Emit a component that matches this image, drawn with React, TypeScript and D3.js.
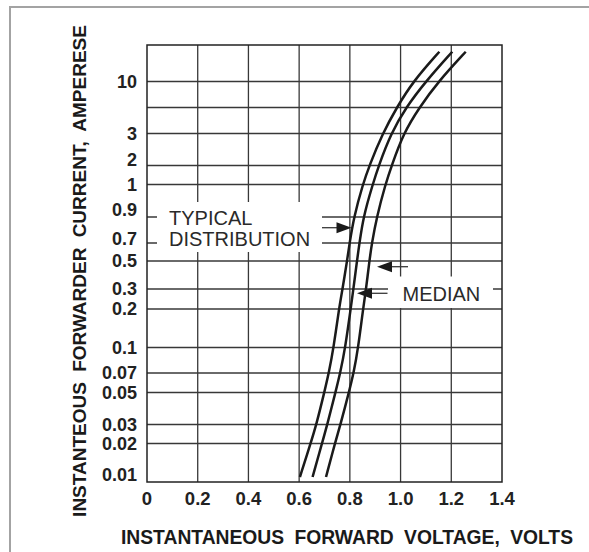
import React, { useEffect, useRef } from 'react';
import * as d3 from 'd3';

const currentLevels = [0.01, 0.02, 0.03, 0.05, 0.07, 0.1, 0.2, 0.3, 0.5, 0.7, 0.9, 1, 2, 3, 5, 10, 17.6];
const lowVolts = [0.603, 0.645, 0.668, 0.699, 0.717, 0.736, 0.757, 0.771, 0.789, 0.799, 0.816, 0.851, 0.877, 0.929, 0.985, 1.049, 1.153];
const medianVolts = [0.653, 0.690, 0.711, 0.743, 0.762, 0.782, 0.803, 0.814, 0.828, 0.838, 0.853, 0.890, 0.914, 0.962, 1.021, 1.099, 1.204];
const highVolts = [0.706, 0.741, 0.763, 0.796, 0.815, 0.833, 0.852, 0.864, 0.877, 0.887, 0.906, 0.940, 0.965, 1.011, 1.074, 1.149, 1.257];

const xTicks = [0, 0.2, 0.4, 0.6, 0.8, 1.0, 1.2, 1.4];
const yTickValues = [10, 3, 2, 1, 0.9, 0.7, 0.5, 0.3, 0.2, 0.1, 0.07, 0.05, 0.03, 0.02, 0.01];
const yTickLabels = ['10', '3', '2', '1', '0.9', '0.7', '0.5', '0.3', '0.2', '0.1', '0.07', '0.05', '0.03', '0.02', '0.01'];
const yGridValues = [10, 5, 3, 2, 1, 0.9, 0.7, 0.5, 0.3, 0.2, 0.1, 0.07, 0.05, 0.03, 0.02];

// the printed chart's current axis is not a clean log scale, so it is mapped piecewise
const yStops = [0.01, 0.02, 0.03, 0.05, 0.07, 0.1, 0.2, 0.3, 0.5, 0.7, 0.9, 1, 2, 3, 5, 10, 20];

function DiodeChart() {
  const ref = useRef<SVGSVGElement>(null);

  useEffect(() => {
    const width = 589;
    const height = 552;
    const left = 147, right = 502, top = 45, bottom = 482;
    const stopOffsets = [432, 398.5, 379.5, 347.5, 328, 302.5, 264, 244, 216, 198, 172, 139.5, 120.5, 88.5, 62.5, 36.5, 0];
    // labels that sit a little above their grid line in the original
    const labelNudge: Record<string, number> = { '2': -6, '0.9': -7, '0.7': -4, '0.01': -2 };

    const svg = d3.select(ref.current);
    svg.selectAll('*').remove();
    svg.attr('width', width).attr('height', height);

    const x = d3.scaleLinear().domain([0, 1.4]).range([left, right]);
    const yLin = d3.scaleLinear()
      .domain(yStops.map(Math.log10))
      .range(stopOffsets.map(o => top + o));
    const y = (v: number) => yLin(Math.log10(v));

    const font = "'Liberation Sans', Arial, sans-serif";
    const gridColor = '#383838';

    // page frame
    svg.append('rect')
      .attr('x', 10).attr('y', 7).attr('width', 620).attr('height', 620)
      .attr('fill', '#fff').attr('stroke', '#a3a3a3').attr('stroke-width', 2);

    const g = svg.append('g');

    // grid
    g.selectAll('line.hgrid')
      .data(yGridValues)
      .enter()
      .append('line')
      .attr('x1', left).attr('x2', right)
      .attr('y1', d => y(d)).attr('y2', d => y(d))
      .attr('stroke', gridColor).attr('stroke-width', 1.3);

    g.selectAll('line.vgrid')
      .data(xTicks.slice(1, -1))
      .enter()
      .append('line')
      .attr('x1', d => x(d)).attr('x2', d => x(d))
      .attr('y1', top).attr('y2', bottom)
      .attr('stroke', gridColor).attr('stroke-width', 1.3);

    // white boxes behind the annotations
    g.append('rect').attr('x', 157).attr('y', 202).attr('width', 165).attr('height', 50).attr('fill', '#fff');
    g.append('rect').attr('x', 388).attr('y', 276.5).attr('width', 105).attr('height', 31.5).attr('fill', '#fff');

    // plot frame
    g.append('rect')
      .attr('x', left).attr('y', top).attr('width', right - left).attr('height', bottom - top)
      .attr('fill', 'none').attr('stroke', '#222').attr('stroke-width', 1.5);

    // curves
    const line = d3.line<number>()
      .x(d => x(d))
      .y((d, i) => y(currentLevels[i]))
      .curve(d3.curveBasis);

    [lowVolts, medianVolts, highVolts].forEach(series => {
      g.append('path')
        .attr('d', line(series))
        .attr('fill', 'none')
        .attr('stroke', '#1a1a1a')
        .attr('stroke-width', 2.5);
    });

    // arrows
    const arrows = [
      { x1: 322, x2: 351.5, y: 227.7 },
      { x1: 408, x2: 377, y: 266.7 },
      { x1: 387.5, x2: 357, y: 293.3 },
    ];
    arrows.forEach(a => {
      const dir = a.x2 > a.x1 ? 1 : -1;
      g.append('line')
        .attr('x1', a.x1).attr('x2', a.x2 - dir * 6)
        .attr('y1', a.y).attr('y2', a.y)
        .attr('stroke', gridColor).attr('stroke-width', 1.3);
      g.append('path')
        .attr('d', `M${a.x2},${a.y} L${a.x2 - dir * 15},${a.y - 5.5} L${a.x2 - dir * 15},${a.y + 5.5} Z`)
        .attr('fill', '#1a1a1a');
    });

    // annotation text
    const notes = [
      { text: 'TYPICAL', x: 169, y: 217.5 },
      { text: 'DISTRIBUTION', x: 169, y: 238.5 },
      { text: 'MEDIAN', x: 402.5, y: 293.3 },
    ];
    g.selectAll('text.note')
      .data(notes)
      .enter()
      .append('text')
      .attr('x', d => d.x)
      .attr('y', d => d.y)
      .attr('dy', '0.36em')
      .attr('font-family', font)
      .attr('font-size', 20)
      .attr('fill', '#2a2a2a')
      .text(d => d.text);

    // tick labels
    g.selectAll('text.ytick')
      .data(yTickValues)
      .enter()
      .append('text')
      .attr('x', 137)
      .attr('y', (d, i) => y(d) + (labelNudge[yTickLabels[i]] || 0))
      .attr('dy', '0.36em')
      .attr('text-anchor', 'end')
      .attr('font-family', font)
      .attr('font-weight', 'bold')
      .attr('font-size', 18)
      .attr('fill', '#222')
      .text((d, i) => yTickLabels[i]);

    g.selectAll('text.xtick')
      .data(xTicks)
      .enter()
      .append('text')
      .attr('x', d => x(d))
      .attr('y', 498)
      .attr('dy', '0.36em')
      .attr('text-anchor', 'middle')
      .attr('font-family', font)
      .attr('font-weight', 'bold')
      .attr('font-size', 18.5)
      .attr('fill', '#222')
      .text(d => d3.format('.1f')(d).replace(/^0\.0$/, '0'));

    // axis titles
    svg.append('text')
      .attr('x', 347).attr('y', 537).attr('dy', '0.36em')
      .attr('text-anchor', 'middle')
      .attr('font-family', font).attr('font-weight', 'bold').attr('font-size', 19.3)
      .attr('word-spacing', 5)
      .attr('fill', '#1a1a1a')
      .text('INSTANTANEOUS FORWARD VOLTAGE, VOLTS');

    svg.append('text')
      .attr('transform', 'translate(79,271) rotate(-90)')
      .attr('dy', '0.36em')
      .attr('text-anchor', 'middle')
      .attr('font-family', font).attr('font-weight', 'bold').attr('font-size', 19)
      .attr('word-spacing', 5)
      .attr('fill', '#1a1a1a')
      .text('INSTANTEOUS FORWARDER CURRENT, AMPERESE');
  }, []);

  return <svg ref={ref} style={{ position: 'absolute', left: 0, top: 0, display: 'block' }} />;
}

export default function App() {
  return <DiodeChart />;
}
